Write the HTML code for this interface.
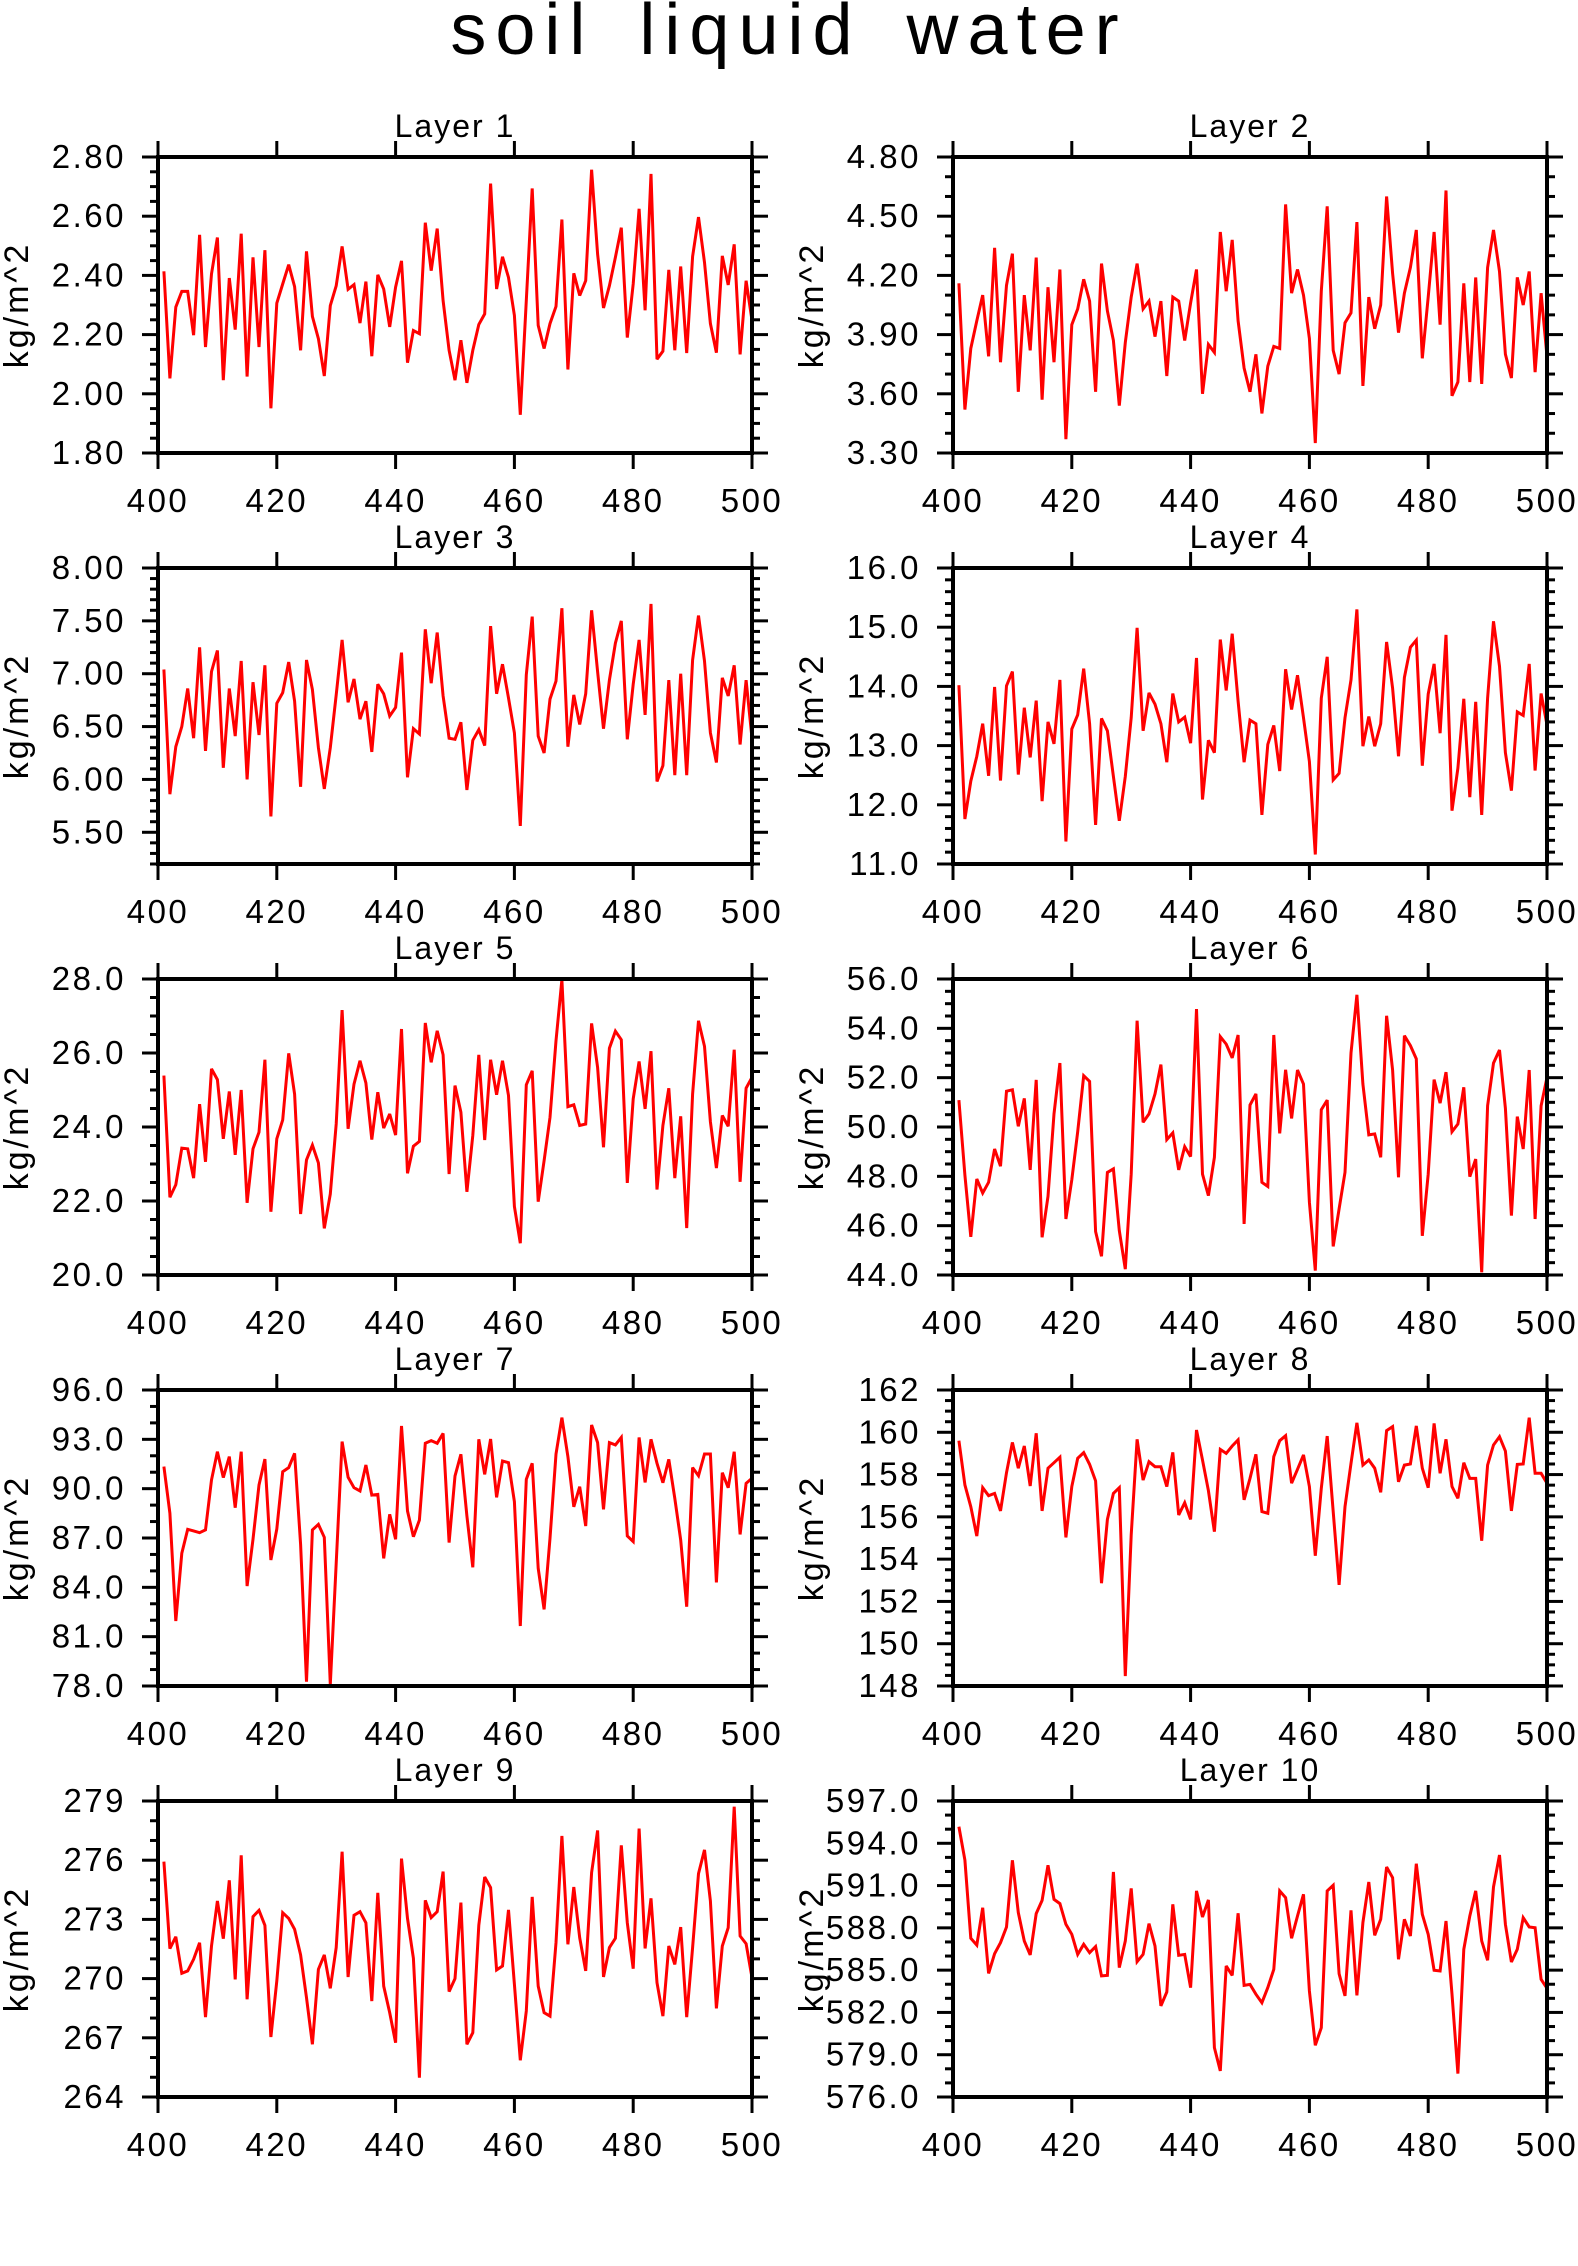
<!DOCTYPE html>
<html><head><meta charset="utf-8"><title>soil liquid water</title>
<style>
html,body{margin:0;padding:0;background:#fff;}
svg{display:block;font-family:"Liberation Sans",sans-serif;}
</style></head>
<body>
<svg id="fig" width="1578" height="2266" viewBox="0 0 1578 2266" xmlns="http://www.w3.org/2000/svg">
<text x="789" y="54" text-anchor="middle" font-size="72" letter-spacing="9" word-spacing="16" fill="#000" style="font-family:'DejaVu Sans ExtraLight','Liberation Sans',sans-serif;font-weight:200;">soil liquid water</text>
<text x="755" y="2296" text-anchor="middle" font-size="40" fill="#000">Year</text>
</svg>
<script>
const layer1=[2.414,2.052,2.293,2.346,2.346,2.198,2.537,2.158,2.405,2.528,2.046,2.391,2.217,2.541,2.058,2.461,2.158,2.485,1.951,2.306,2.371,2.436,2.362,2.147,2.481,2.261,2.186,2.060,2.298,2.365,2.498,2.353,2.369,2.239,2.379,2.127,2.402,2.354,2.226,2.360,2.449,2.105,2.214,2.203,2.578,2.416,2.558,2.315,2.147,2.046,2.181,2.037,2.147,2.234,2.270,2.710,2.354,2.463,2.393,2.265,1.929,2.315,2.694,2.231,2.153,2.237,2.295,2.589,2.082,2.407,2.332,2.382,2.757,2.472,2.290,2.365,2.461,2.561,2.190,2.371,2.625,2.282,2.743,2.117,2.144,2.419,2.147,2.430,2.138,2.464,2.597,2.444,2.237,2.139,2.466,2.368,2.505,2.133,2.382,2.248];
const layer2=[4.16,3.52,3.83,3.97,4.10,3.79,4.34,3.76,4.15,4.31,3.61,4.10,3.82,4.29,3.57,4.14,3.76,4.23,3.37,3.95,4.03,4.18,4.07,3.61,4.26,4.02,3.87,3.54,3.86,4.09,4.26,4.03,4.07,3.89,4.07,3.69,4.09,4.07,3.87,4.06,4.23,3.60,3.85,3.81,4.42,4.12,4.38,3.97,3.73,3.61,3.80,3.50,3.74,3.84,3.83,4.56,4.11,4.23,4.10,3.88,3.35,4.12,4.55,3.82,3.70,3.96,4.01,4.47,3.64,4.09,3.93,4.05,4.60,4.21,3.91,4.11,4.24,4.43,3.78,4.09,4.42,3.95,4.63,3.59,3.66,4.16,3.66,4.19,3.65,4.24,4.43,4.22,3.80,3.68,4.19,4.05,4.22,3.71,4.11,3.79];
const layer3=[7.04,5.86,6.31,6.50,6.86,6.39,7.25,6.27,7.02,7.22,6.11,6.86,6.41,7.12,6.00,6.92,6.42,7.08,5.65,6.72,6.82,7.11,6.74,5.93,7.13,6.85,6.30,5.91,6.30,6.80,7.32,6.73,6.95,6.57,6.74,6.26,6.90,6.81,6.60,6.68,7.20,6.02,6.48,6.43,7.42,6.91,7.39,6.79,6.39,6.38,6.54,5.90,6.37,6.47,6.32,7.45,6.81,7.09,6.77,6.44,5.56,6.99,7.54,6.41,6.25,6.76,6.93,7.62,6.31,6.80,6.52,6.81,7.60,7.02,6.48,6.94,7.29,7.50,6.38,6.90,7.32,6.61,7.66,5.98,6.13,6.94,6.04,7.00,6.04,7.13,7.55,7.12,6.44,6.16,6.96,6.79,7.08,6.33,6.94,6.39];
const layer4=[14.02,11.76,12.40,12.82,13.37,12.49,13.99,12.41,14.01,14.25,12.51,13.64,12.80,13.76,12.06,13.40,13.03,14.11,11.38,13.28,13.52,14.30,13.37,11.66,13.46,13.25,12.48,11.73,12.48,13.47,14.99,13.25,13.89,13.70,13.37,12.72,13.88,13.40,13.48,13.04,14.48,12.09,13.09,12.88,14.79,13.93,14.89,13.75,12.72,13.43,13.37,11.83,13.02,13.34,12.57,14.29,13.61,14.19,13.47,12.73,11.16,13.80,14.50,12.42,12.53,13.47,14.11,15.30,12.99,13.49,12.99,13.37,14.75,13.97,12.82,14.15,14.66,14.78,12.66,13.87,14.38,13.21,14.87,11.90,12.62,13.79,12.13,13.74,11.83,13.80,15.10,14.34,12.88,12.24,13.57,13.51,14.38,12.58,13.88,13.35];
const layer5=[25.39,22.10,22.44,23.43,23.41,22.62,24.62,23.06,25.57,25.28,23.68,24.96,23.25,25.00,21.95,23.41,23.86,25.82,21.71,23.68,24.19,25.99,24.89,21.65,23.11,23.51,23.03,21.26,22.19,24.08,27.16,23.95,25.16,25.79,25.19,23.66,24.94,23.97,24.35,23.78,26.65,22.75,23.48,23.61,26.81,25.75,26.60,25.95,22.73,25.12,24.40,22.25,23.77,25.95,23.65,25.82,24.87,25.79,24.85,21.85,20.86,25.14,25.52,21.98,23.09,24.26,26.33,27.98,24.55,24.60,24.04,24.08,26.80,25.61,23.45,26.13,26.59,26.36,22.49,24.76,25.77,24.49,26.05,22.31,24.04,25.05,22.62,24.29,21.27,24.89,26.87,26.18,24.14,22.89,24.31,24.02,26.09,22.52,25.05,25.34];
const layer6=[51.09,48.05,45.55,47.89,47.32,47.76,49.11,48.41,51.45,51.51,50.03,51.16,48.26,51.91,45.53,47.19,50.53,52.59,46.27,47.86,49.81,52.08,51.85,45.76,44.76,48.16,48.30,45.80,44.24,48.09,54.31,50.19,50.53,51.34,52.53,49.49,49.76,48.26,49.20,48.80,54.78,48.09,47.22,48.77,53.66,53.36,52.80,53.73,46.07,50.89,51.34,47.76,47.59,53.73,49.74,52.32,50.35,52.31,51.74,46.95,44.18,50.70,51.09,45.16,46.68,48.16,53.00,55.36,51.74,49.68,49.72,48.77,54.51,52.31,47.96,53.70,53.30,52.76,45.59,48.09,51.92,50.97,52.22,49.81,50.12,51.61,47.99,48.70,44.11,50.86,52.59,53.12,50.76,46.41,50.42,49.11,52.31,46.27,50.86,52.01];
const layer7=[91.34,88.50,81.95,86.07,87.53,87.43,87.32,87.49,90.53,92.25,90.67,91.95,88.84,92.25,84.08,86.92,90.22,91.80,85.66,87.55,91.03,91.28,92.15,86.61,78.26,87.49,87.83,87.04,78.10,85.46,92.86,90.69,90.06,89.86,91.44,89.61,89.65,85.76,88.44,86.92,93.81,88.64,87.08,88.09,92.76,92.92,92.76,93.36,86.72,90.77,92.09,88.34,85.22,93.00,90.87,93.02,89.47,91.68,91.58,89.21,81.65,90.57,91.54,85.15,82.66,86.98,92.11,94.32,91.95,88.90,90.12,87.73,93.87,92.80,88.74,92.80,92.66,93.12,87.12,86.78,93.12,90.38,93.00,91.54,90.36,91.78,89.41,86.88,82.82,91.28,90.79,92.11,92.11,84.30,90.97,90.06,92.25,87.22,90.32,90.63];
const layer8=[159.60,157.51,156.48,155.09,157.38,157.00,157.11,156.28,158.09,159.52,158.30,159.35,157.46,159.95,156.28,158.30,158.56,158.82,155.03,157.43,158.77,159.04,158.48,157.70,152.86,155.88,157.11,157.38,148.47,155.14,159.67,157.74,158.61,158.37,158.37,157.43,159.05,156.09,156.67,155.88,160.11,158.69,157.24,155.30,159.19,159.00,159.35,159.64,156.80,157.82,158.96,156.25,156.17,158.85,159.60,159.84,157.59,158.25,158.93,157.43,154.16,157.35,159.82,156.25,152.78,156.48,158.53,160.45,158.45,158.69,158.30,157.16,160.08,160.27,157.66,158.45,158.50,160.30,158.30,157.38,160.42,158.06,159.67,157.43,156.88,158.56,157.82,157.82,154.87,158.45,159.40,159.79,159.11,156.28,158.48,158.50,160.69,158.06,158.06,157.59];
const layer9=[275.93,271.52,272.12,270.27,270.39,270.98,271.82,268.05,271.65,273.93,272.02,274.98,269.96,276.25,268.95,273.14,273.46,272.70,267.04,269.88,273.34,273.05,272.50,271.20,269.03,266.67,270.47,271.20,269.51,271.57,276.43,270.08,273.21,273.39,272.83,268.86,274.35,269.62,268.27,266.75,276.08,273.05,271.03,264.98,273.97,273.09,273.39,275.42,269.34,270.00,273.85,266.67,267.26,272.70,275.15,274.61,270.44,270.64,273.48,269.71,265.86,268.36,274.14,269.62,268.27,268.10,271.82,277.23,271.74,274.64,272.07,270.39,275.37,277.51,270.08,271.57,272.04,276.75,272.83,270.50,277.60,271.53,274.07,269.79,268.10,271.65,270.72,272.61,268.05,271.57,275.32,276.52,273.93,268.49,271.65,272.58,278.71,272.16,271.77,270.05];
const layer10=[595.18,592.81,587.26,586.78,589.43,584.77,586.17,586.95,588.06,592.79,589.08,587.07,586.08,589.01,589.95,592.44,590.02,589.72,588.25,587.54,586.12,586.83,586.24,586.67,584.59,584.63,591.96,585.18,587.07,590.80,585.60,586.12,588.30,586.71,582.46,583.45,589.67,586.05,586.12,583.76,590.62,588.77,589.98,579.50,577.85,585.30,584.63,589.03,583.92,583.99,583.29,582.69,583.76,585.06,590.62,590.14,587.26,588.84,590.38,583.52,579.67,580.92,590.62,591.02,584.75,583.17,589.24,583.21,588.37,591.25,587.47,588.61,592.32,591.56,585.77,588.61,587.42,592.55,588.96,587.54,584.99,584.94,588.49,583.29,577.66,586.48,588.84,590.62,587.07,585.70,590.90,593.17,588.25,585.58,586.48,588.72,588.06,588.01,584.35,583.71];
const layerTitles=["Layer 1","Layer 2","Layer 3","Layer 4","Layer 5","Layer 6","Layer 7","Layer 8","Layer 9","Layer 10"];
const xTickLabels=["400","420","440","460","480","500"];
const xStart=401;
const yMins=[1.8,3.3,5.2,11,20,44,78,148,264,576];
const yMaxs=[2.8,4.8,8.0,16,28,56,96,162,279,597];
const yMajors=[0.2,0.3,0.5,1,2,2,3,2,3,3];
const yMinors=[0.05,0.1,0.1,0.2,0.5,0.5,1,0.5,1,1];
const yDecimals=[2,2,2,1,1,1,1,0,0,1];
const allSeries=[layer1,layer2,layer3,layer4,layer5,layer6,layer7,layer8,layer9,layer10];

const NS="http://www.w3.org/2000/svg";
const svg=document.getElementById('fig');
const colX=[158,953], rowY=[157,568,979,1390,1801], PW=594, PH=296;
function mk(tag,attrs,parent){const e=document.createElementNS(NS,tag);for(const k in attrs)e.setAttribute(k,attrs[k]);(parent||svg).appendChild(e);return e;}

allSeries.forEach(function(data,i){
  const x0=colX[i%2], y0=rowY[Math.floor(i/2)];
  const ymin=yMins[i], ymax=yMaxs[i];
  const xs=v=>x0+(v-400)/100*PW;
  const ys=v=>y0+(ymax-v)/(ymax-ymin)*PH;
  const g=mk('g',{});
  
  
  const t=mk('text',{x:x0+PW/2,y:y0-20,'text-anchor':'middle','font-size':32,'letter-spacing':2,fill:'#000'},g);
  t.textContent=layerTitles[i];
  
  
  const yt=mk('text',{x:0,y:0,'text-anchor':'middle','font-size':34,'letter-spacing':3,fill:'#000',transform:'translate('+(x0-130)+','+(y0+PH/2)+') rotate(-90)'},g);
  yt.textContent='kg/m^2';
  
  
  const eps=1e-6;
  const kmin=Math.ceil(ymin/yMinors[i]-eps), kmax=Math.floor(ymax/yMinors[i]+eps);
  for(let k=kmin;k<=kmax;k++){
    const v=k*yMinors[i];
    const r=v/yMajors[i];
    const isMajor=Math.abs(r-Math.round(r))<1e-4;
    const len=isMajor?16:8;
    const y=ys(v);
    const tl=mk('line',{x1:x0-len,x2:x0,y1:y,y2:y,stroke:'#000','stroke-width':3},g);
    
    
    const tr=mk('line',{x1:x0+PW,x2:x0+PW+len,y1:y,y2:y,stroke:'#000','stroke-width':3},g);
    
    
    if(isMajor){
      const lb=mk('text',{x:x0-32,y:y+11,'text-anchor':'end','font-size':33,'letter-spacing':2.5,fill:'#000'},g);
      lb.textContent=v.toFixed(yDecimals[i]);
      
      
    }
  }
  xTickLabels.forEach(function(lab){
    const v=parseFloat(lab), x=xs(v);
    const tb=mk('line',{x1:x,x2:x,y1:y0+PH,y2:y0+PH+16,stroke:'#000','stroke-width':3},g);
    
    
    const tt=mk('line',{x1:x,x2:x,y1:y0-16,y2:y0,stroke:'#000','stroke-width':3},g);
    
    
    const lb=mk('text',{x:x,y:y0+PH+59,'text-anchor':'middle','font-size':33,'letter-spacing':2.5,fill:'#000'},g);
    lb.textContent=lab;
    
    
  });
  let d='';
  data.forEach(function(v,j){d+=(j?'L':'M')+xs(xStart+j).toFixed(1)+','+ys(v).toFixed(1);});
  const p=mk('path',{d:d,fill:'none',stroke:'#ff0000','stroke-width':3,'stroke-linejoin':'miter','stroke-miterlimit':3},g);
  
  
  const f=mk('rect',{x:x0,y:y0,width:PW,height:PH,fill:'none',stroke:'#000','stroke-width':4},g);
  
  
});
</script>
</body></html>
